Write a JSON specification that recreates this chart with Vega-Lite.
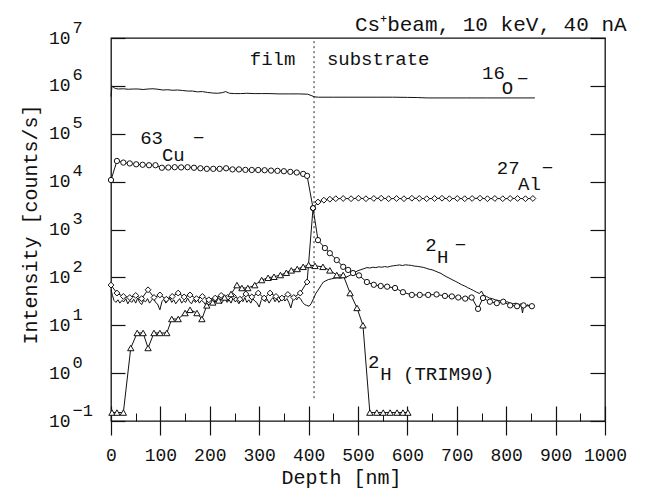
{
  "$schema": "https://vega.github.io/schema/vega-lite/v6.json",
  "width": 494,
  "height": 383,
  "autosize": {"type": "none"},
  "padding": {"left": 111, "top": 38, "right": 42, "bottom": 82},
  "background": "white",
  "config": {
    "font": "Liberation Mono",
    "view": {"stroke": "#111", "strokeWidth": 1.3},
    "axis": {"grid": false, "domain": false, "labelColor": "#111", "titleColor": "#111", "tickColor": "#111", "labelFont": "Liberation Mono", "titleFont": "Liberation Mono", "titleFontWeight": "normal"}
  },
  "title": {"text": "Cs⁺beam, 10 keV, 40 nA", "anchor": "end", "fontSize": 21, "fontWeight": "normal", "font": "Liberation Mono", "color": "#111", "offset": -17},
  "datasets": {
    "divider": [{"depth": 411, "intensity": 0.3, "top": 10000000}],
    "series": [
      {"species": "O", "depth": 0, "intensity": 600000}, {"species": "O", "depth": 2, "intensity": 1000000}, {"species": "O", "depth": 5, "intensity": 930000}, {"species": "O", "depth": 9, "intensity": 880000}, {"species": "O", "depth": 15, "intensity": 860000}, {"species": "O", "depth": 25, "intensity": 870000}, {"species": "O", "depth": 35, "intensity": 850000}, {"species": "O", "depth": 45, "intensity": 860000}, {"species": "O", "depth": 55, "intensity": 860000}, {"species": "O", "depth": 65, "intensity": 840000}, {"species": "O", "depth": 75, "intensity": 860000}, {"species": "O", "depth": 85, "intensity": 870000}, {"species": "O", "depth": 95, "intensity": 850000}, {"species": "O", "depth": 105, "intensity": 820000}, {"species": "O", "depth": 115, "intensity": 830000}, {"species": "O", "depth": 125, "intensity": 810000}, {"species": "O", "depth": 135, "intensity": 820000}, {"species": "O", "depth": 145, "intensity": 800000}, {"species": "O", "depth": 155, "intensity": 780000}, {"species": "O", "depth": 165, "intensity": 780000}, {"species": "O", "depth": 175, "intensity": 750000}, {"species": "O", "depth": 185, "intensity": 760000}, {"species": "O", "depth": 195, "intensity": 730000}, {"species": "O", "depth": 205, "intensity": 710000}, {"species": "O", "depth": 215, "intensity": 700000}, {"species": "O", "depth": 225, "intensity": 720000}, {"species": "O", "depth": 232, "intensity": 760000}, {"species": "O", "depth": 240, "intensity": 700000}, {"species": "O", "depth": 250, "intensity": 690000}, {"species": "O", "depth": 262, "intensity": 690000}, {"species": "O", "depth": 275, "intensity": 700000}, {"species": "O", "depth": 290, "intensity": 690000}, {"species": "O", "depth": 305, "intensity": 690000}, {"species": "O", "depth": 320, "intensity": 690000}, {"species": "O", "depth": 340, "intensity": 680000}, {"species": "O", "depth": 360, "intensity": 680000}, {"species": "O", "depth": 380, "intensity": 680000}, {"species": "O", "depth": 398, "intensity": 670000}, {"species": "O", "depth": 405, "intensity": 630000}, {"species": "O", "depth": 412, "intensity": 590000}, {"species": "O", "depth": 420, "intensity": 580000}, {"species": "O", "depth": 450, "intensity": 580000}, {"species": "O", "depth": 480, "intensity": 580000}, {"species": "O", "depth": 510, "intensity": 580000}, {"species": "O", "depth": 540, "intensity": 580000}, {"species": "O", "depth": 570, "intensity": 580000}, {"species": "O", "depth": 600, "intensity": 575000}, {"species": "O", "depth": 620, "intensity": 570000}, {"species": "O", "depth": 640, "intensity": 560000}, {"species": "O", "depth": 680, "intensity": 560000}, {"species": "O", "depth": 720, "intensity": 560000}, {"species": "O", "depth": 760, "intensity": 560000}, {"species": "O", "depth": 800, "intensity": 560000}, {"species": "O", "depth": 830, "intensity": 560000}, {"species": "O", "depth": 858, "intensity": 560000},

      {"species": "Cu", "depth": 0, "intensity": 10800}, {"species": "Cu", "depth": 12, "intensity": 27000}, {"species": "Cu", "depth": 25, "intensity": 25000}, {"species": "Cu", "depth": 38, "intensity": 24000}, {"species": "Cu", "depth": 51, "intensity": 23000}, {"species": "Cu", "depth": 64, "intensity": 22500}, {"species": "Cu", "depth": 77, "intensity": 22000}, {"species": "Cu", "depth": 90, "intensity": 22000}, {"species": "Cu", "depth": 103, "intensity": 19500}, {"species": "Cu", "depth": 116, "intensity": 19700}, {"species": "Cu", "depth": 129, "intensity": 20000}, {"species": "Cu", "depth": 142, "intensity": 19800}, {"species": "Cu", "depth": 155, "intensity": 20000}, {"species": "Cu", "depth": 168, "intensity": 19500}, {"species": "Cu", "depth": 181, "intensity": 19000}, {"species": "Cu", "depth": 194, "intensity": 18500}, {"species": "Cu", "depth": 207, "intensity": 18500}, {"species": "Cu", "depth": 220, "intensity": 18500}, {"species": "Cu", "depth": 233, "intensity": 19000}, {"species": "Cu", "depth": 246, "intensity": 18000}, {"species": "Cu", "depth": 259, "intensity": 18000}, {"species": "Cu", "depth": 272, "intensity": 17600}, {"species": "Cu", "depth": 285, "intensity": 17500}, {"species": "Cu", "depth": 298, "intensity": 17500}, {"species": "Cu", "depth": 311, "intensity": 17300}, {"species": "Cu", "depth": 324, "intensity": 17000}, {"species": "Cu", "depth": 337, "intensity": 16800}, {"species": "Cu", "depth": 350, "intensity": 16500}, {"species": "Cu", "depth": 363, "intensity": 16000}, {"species": "Cu", "depth": 376, "intensity": 15500}, {"species": "Cu", "depth": 389, "intensity": 14500}, {"species": "Cu", "depth": 397, "intensity": 13200}, {"species": "Cu", "depth": 409, "intensity": 2800}, {"species": "Cu", "depth": 419, "intensity": 600}, {"species": "Cu", "depth": 433, "intensity": 410}, {"species": "Cu", "depth": 443, "intensity": 320}, {"species": "Cu", "depth": 457, "intensity": 230}, {"species": "Cu", "depth": 470, "intensity": 166}, {"species": "Cu", "depth": 480, "intensity": 143}, {"species": "Cu", "depth": 490, "intensity": 123}, {"species": "Cu", "depth": 502, "intensity": 110}, {"species": "Cu", "depth": 518, "intensity": 80}, {"species": "Cu", "depth": 532, "intensity": 70}, {"species": "Cu", "depth": 546, "intensity": 66}, {"species": "Cu", "depth": 559, "intensity": 64}, {"species": "Cu", "depth": 575, "intensity": 60}, {"species": "Cu", "depth": 591, "intensity": 49}, {"species": "Cu", "depth": 609, "intensity": 43}, {"species": "Cu", "depth": 625, "intensity": 43}, {"species": "Cu", "depth": 642, "intensity": 43}, {"species": "Cu", "depth": 659, "intensity": 44}, {"species": "Cu", "depth": 676, "intensity": 41}, {"species": "Cu", "depth": 690, "intensity": 40}, {"species": "Cu", "depth": 703, "intensity": 38}, {"species": "Cu", "depth": 717, "intensity": 36}, {"species": "Cu", "depth": 730, "intensity": 38}, {"species": "Cu", "depth": 743, "intensity": 22}, {"species": "Cu", "depth": 753, "intensity": 37}, {"species": "Cu", "depth": 767, "intensity": 31}, {"species": "Cu", "depth": 781, "intensity": 29}, {"species": "Cu", "depth": 794, "intensity": 31}, {"species": "Cu", "depth": 808, "intensity": 26}, {"species": "Cu", "depth": 822, "intensity": 25}, {"species": "Cu", "depth": 835, "intensity": 26}, {"species": "Cu", "depth": 852, "intensity": 25},

      {"species": "Al", "depth": 0, "intensity": 69}, {"species": "Al", "depth": 12, "intensity": 47}, {"species": "Al", "depth": 25, "intensity": 40}, {"species": "Al", "depth": 38, "intensity": 38}, {"species": "Al", "depth": 50, "intensity": 42}, {"species": "Al", "depth": 62, "intensity": 36}, {"species": "Al", "depth": 75, "intensity": 55}, {"species": "Al", "depth": 87, "intensity": 38}, {"species": "Al", "depth": 99, "intensity": 43}, {"species": "Al", "depth": 112, "intensity": 35}, {"species": "Al", "depth": 124, "intensity": 40}, {"species": "Al", "depth": 136, "intensity": 47}, {"species": "Al", "depth": 148, "intensity": 39}, {"species": "Al", "depth": 160, "intensity": 43}, {"species": "Al", "depth": 173, "intensity": 36}, {"species": "Al", "depth": 185, "intensity": 40}, {"species": "Al", "depth": 198, "intensity": 34}, {"species": "Al", "depth": 211, "intensity": 37}, {"species": "Al", "depth": 223, "intensity": 42}, {"species": "Al", "depth": 236, "intensity": 38}, {"species": "Al", "depth": 248, "intensity": 40}, {"species": "Al", "depth": 261, "intensity": 35}, {"species": "Al", "depth": 273, "intensity": 45}, {"species": "Al", "depth": 285, "intensity": 39}, {"species": "Al", "depth": 298, "intensity": 47}, {"species": "Al", "depth": 310, "intensity": 37}, {"species": "Al", "depth": 322, "intensity": 47}, {"species": "Al", "depth": 334, "intensity": 40}, {"species": "Al", "depth": 346, "intensity": 37}, {"species": "Al", "depth": 358, "intensity": 44}, {"species": "Al", "depth": 370, "intensity": 38}, {"species": "Al", "depth": 383, "intensity": 47}, {"species": "Al", "depth": 397, "intensity": 80}, {"species": "Al", "depth": 409, "intensity": 2800}, {"species": "Al", "depth": 419, "intensity": 3750}, {"species": "Al", "depth": 431, "intensity": 4100}, {"species": "Al", "depth": 443, "intensity": 4300}, {"species": "Al", "depth": 455, "intensity": 4400}, {"species": "Al", "depth": 470, "intensity": 4450}, {"species": "Al", "depth": 486, "intensity": 4400}, {"species": "Al", "depth": 501, "intensity": 4500}, {"species": "Al", "depth": 516, "intensity": 4400}, {"species": "Al", "depth": 532, "intensity": 4450}, {"species": "Al", "depth": 547, "intensity": 4500}, {"species": "Al", "depth": 562, "intensity": 4400}, {"species": "Al", "depth": 578, "intensity": 4450}, {"species": "Al", "depth": 593, "intensity": 4400}, {"species": "Al", "depth": 609, "intensity": 4500}, {"species": "Al", "depth": 624, "intensity": 4450}, {"species": "Al", "depth": 639, "intensity": 4400}, {"species": "Al", "depth": 655, "intensity": 4450}, {"species": "Al", "depth": 670, "intensity": 4500}, {"species": "Al", "depth": 685, "intensity": 4400}, {"species": "Al", "depth": 701, "intensity": 4450}, {"species": "Al", "depth": 716, "intensity": 4400}, {"species": "Al", "depth": 731, "intensity": 4450}, {"species": "Al", "depth": 747, "intensity": 4500}, {"species": "Al", "depth": 762, "intensity": 4400}, {"species": "Al", "depth": 777, "intensity": 4450}, {"species": "Al", "depth": 793, "intensity": 4400}, {"species": "Al", "depth": 808, "intensity": 4450}, {"species": "Al", "depth": 823, "intensity": 4450}, {"species": "Al", "depth": 839, "intensity": 4400}, {"species": "Al", "depth": 854, "intensity": 4450},

      {"species": "H", "depth": 0, "intensity": 55}, {"species": "H", "depth": 3, "intensity": 42}, {"species": "H", "depth": 6, "intensity": 33}, {"species": "H", "depth": 10, "intensity": 30}, {"species": "H", "depth": 14, "intensity": 34}, {"species": "H", "depth": 18, "intensity": 29}, {"species": "H", "depth": 22, "intensity": 33}, {"species": "H", "depth": 26, "intensity": 31}, {"species": "H", "depth": 30, "intensity": 36}, {"species": "H", "depth": 34, "intensity": 28}, {"species": "H", "depth": 38, "intensity": 33}, {"species": "H", "depth": 42, "intensity": 30}, {"species": "H", "depth": 46, "intensity": 35}, {"species": "H", "depth": 50, "intensity": 29}, {"species": "H", "depth": 54, "intensity": 37}, {"species": "H", "depth": 58, "intensity": 30}, {"species": "H", "depth": 62, "intensity": 27}, {"species": "H", "depth": 66, "intensity": 33}, {"species": "H", "depth": 70, "intensity": 31}, {"species": "H", "depth": 74, "intensity": 36}, {"species": "H", "depth": 78, "intensity": 29}, {"species": "H", "depth": 82, "intensity": 33}, {"species": "H", "depth": 86, "intensity": 38}, {"species": "H", "depth": 90, "intensity": 30}, {"species": "H", "depth": 94, "intensity": 28}, {"species": "H", "depth": 99, "intensity": 21}, {"species": "H", "depth": 103, "intensity": 31}, {"species": "H", "depth": 107, "intensity": 35}, {"species": "H", "depth": 111, "intensity": 29}, {"species": "H", "depth": 115, "intensity": 33}, {"species": "H", "depth": 119, "intensity": 37}, {"species": "H", "depth": 123, "intensity": 30}, {"species": "H", "depth": 127, "intensity": 34}, {"species": "H", "depth": 131, "intensity": 28}, {"species": "H", "depth": 135, "intensity": 32}, {"species": "H", "depth": 139, "intensity": 36}, {"species": "H", "depth": 143, "intensity": 29}, {"species": "H", "depth": 147, "intensity": 33}, {"species": "H", "depth": 151, "intensity": 30}, {"species": "H", "depth": 155, "intensity": 37}, {"species": "H", "depth": 159, "intensity": 31}, {"species": "H", "depth": 163, "intensity": 28}, {"species": "H", "depth": 167, "intensity": 34}, {"species": "H", "depth": 171, "intensity": 30}, {"species": "H", "depth": 175, "intensity": 35}, {"species": "H", "depth": 179, "intensity": 29}, {"species": "H", "depth": 183, "intensity": 33}, {"species": "H", "depth": 187, "intensity": 31}, {"species": "H", "depth": 191, "intensity": 27}, {"species": "H", "depth": 195, "intensity": 34}, {"species": "H", "depth": 199, "intensity": 31}, {"species": "H", "depth": 203, "intensity": 36}, {"species": "H", "depth": 207, "intensity": 29}, {"species": "H", "depth": 211, "intensity": 33}, {"species": "H", "depth": 215, "intensity": 30}, {"species": "H", "depth": 219, "intensity": 35}, {"species": "H", "depth": 223, "intensity": 28}, {"species": "H", "depth": 227, "intensity": 32}, {"species": "H", "depth": 231, "intensity": 36}, {"species": "H", "depth": 235, "intensity": 30}, {"species": "H", "depth": 239, "intensity": 34}, {"species": "H", "depth": 243, "intensity": 29}, {"species": "H", "depth": 247, "intensity": 37}, {"species": "H", "depth": 251, "intensity": 31}, {"species": "H", "depth": 255, "intensity": 33}, {"species": "H", "depth": 259, "intensity": 28}, {"species": "H", "depth": 263, "intensity": 35}, {"species": "H", "depth": 267, "intensity": 31}, {"species": "H", "depth": 271, "intensity": 38}, {"species": "H", "depth": 275, "intensity": 30}, {"species": "H", "depth": 279, "intensity": 34}, {"species": "H", "depth": 283, "intensity": 29}, {"species": "H", "depth": 287, "intensity": 36}, {"species": "H", "depth": 291, "intensity": 32}, {"species": "H", "depth": 295, "intensity": 30}, {"species": "H", "depth": 300, "intensity": 24}, {"species": "H", "depth": 304, "intensity": 33}, {"species": "H", "depth": 308, "intensity": 37}, {"species": "H", "depth": 312, "intensity": 31}, {"species": "H", "depth": 316, "intensity": 35}, {"species": "H", "depth": 320, "intensity": 29}, {"species": "H", "depth": 324, "intensity": 34}, {"species": "H", "depth": 328, "intensity": 38}, {"species": "H", "depth": 332, "intensity": 31}, {"species": "H", "depth": 336, "intensity": 36}, {"species": "H", "depth": 340, "intensity": 30}, {"species": "H", "depth": 344, "intensity": 34}, {"species": "H", "depth": 348, "intensity": 38}, {"species": "H", "depth": 352, "intensity": 32}, {"species": "H", "depth": 356, "intensity": 36}, {"species": "H", "depth": 360, "intensity": 30}, {"species": "H", "depth": 364, "intensity": 23}, {"species": "H", "depth": 368, "intensity": 33}, {"species": "H", "depth": 372, "intensity": 38}, {"species": "H", "depth": 376, "intensity": 34}, {"species": "H", "depth": 380, "intensity": 39}, {"species": "H", "depth": 384, "intensity": 35}, {"species": "H", "depth": 388, "intensity": 30}, {"species": "H", "depth": 392, "intensity": 27}, {"species": "H", "depth": 396, "intensity": 26}, {"species": "H", "depth": 401, "intensity": 25}, {"species": "H", "depth": 405, "intensity": 28}, {"species": "H", "depth": 410, "intensity": 36}, {"species": "H", "depth": 414, "intensity": 45}, {"species": "H", "depth": 418, "intensity": 52}, {"species": "H", "depth": 422, "intensity": 60}, {"species": "H", "depth": 426, "intensity": 70}, {"species": "H", "depth": 430, "intensity": 80}, {"species": "H", "depth": 435, "intensity": 85}, {"species": "H", "depth": 440, "intensity": 90}, {"species": "H", "depth": 446, "intensity": 93}, {"species": "H", "depth": 452, "intensity": 96}, {"species": "H", "depth": 458, "intensity": 98}, {"species": "H", "depth": 464, "intensity": 96}, {"species": "H", "depth": 470, "intensity": 99}, {"species": "H", "depth": 476, "intensity": 101}, {"species": "H", "depth": 482, "intensity": 108}, {"species": "H", "depth": 488, "intensity": 118}, {"species": "H", "depth": 494, "intensity": 128}, {"species": "H", "depth": 500, "intensity": 138}, {"species": "H", "depth": 506, "intensity": 145}, {"species": "H", "depth": 512, "intensity": 152}, {"species": "H", "depth": 518, "intensity": 160}, {"species": "H", "depth": 524, "intensity": 157}, {"species": "H", "depth": 530, "intensity": 163}, {"species": "H", "depth": 536, "intensity": 160}, {"species": "H", "depth": 542, "intensity": 166}, {"species": "H", "depth": 548, "intensity": 163}, {"species": "H", "depth": 554, "intensity": 168}, {"species": "H", "depth": 560, "intensity": 164}, {"species": "H", "depth": 566, "intensity": 171}, {"species": "H", "depth": 572, "intensity": 175}, {"species": "H", "depth": 578, "intensity": 178}, {"species": "H", "depth": 584, "intensity": 182}, {"species": "H", "depth": 590, "intensity": 177}, {"species": "H", "depth": 596, "intensity": 183}, {"species": "H", "depth": 602, "intensity": 180}, {"species": "H", "depth": 608, "intensity": 178}, {"species": "H", "depth": 614, "intensity": 172}, {"species": "H", "depth": 620, "intensity": 170}, {"species": "H", "depth": 626, "intensity": 166}, {"species": "H", "depth": 632, "intensity": 162}, {"species": "H", "depth": 638, "intensity": 155}, {"species": "H", "depth": 644, "intensity": 148}, {"species": "H", "depth": 650, "intensity": 144}, {"species": "H", "depth": 656, "intensity": 136}, {"species": "H", "depth": 662, "intensity": 128}, {"species": "H", "depth": 668, "intensity": 121}, {"species": "H", "depth": 674, "intensity": 110}, {"species": "H", "depth": 680, "intensity": 102}, {"species": "H", "depth": 686, "intensity": 95}, {"species": "H", "depth": 692, "intensity": 88}, {"species": "H", "depth": 698, "intensity": 82}, {"species": "H", "depth": 704, "intensity": 76}, {"species": "H", "depth": 710, "intensity": 70}, {"species": "H", "depth": 716, "intensity": 66}, {"species": "H", "depth": 722, "intensity": 61}, {"species": "H", "depth": 728, "intensity": 57}, {"species": "H", "depth": 734, "intensity": 53}, {"species": "H", "depth": 740, "intensity": 49}, {"species": "H", "depth": 746, "intensity": 46}, {"species": "H", "depth": 750, "intensity": 52}, {"species": "H", "depth": 754, "intensity": 43}, {"species": "H", "depth": 760, "intensity": 40}, {"species": "H", "depth": 766, "intensity": 37}, {"species": "H", "depth": 772, "intensity": 36}, {"species": "H", "depth": 778, "intensity": 34}, {"species": "H", "depth": 784, "intensity": 33}, {"species": "H", "depth": 790, "intensity": 32}, {"species": "H", "depth": 796, "intensity": 30}, {"species": "H", "depth": 802, "intensity": 31}, {"species": "H", "depth": 808, "intensity": 29}, {"species": "H", "depth": 814, "intensity": 28}, {"species": "H", "depth": 820, "intensity": 29}, {"species": "H", "depth": 826, "intensity": 27}, {"species": "H", "depth": 830, "intensity": 28}, {"species": "H", "depth": 833, "intensity": 18}, {"species": "H", "depth": 836, "intensity": 28}, {"species": "H", "depth": 840, "intensity": 25}, {"species": "H", "depth": 844, "intensity": 27}, {"species": "H", "depth": 848, "intensity": 24}, {"species": "H", "depth": 852, "intensity": 27}, {"species": "H", "depth": 855, "intensity": 25},

      {"species": "TRIM", "depth": 2, "intensity": 0.15}, {"species": "TRIM", "depth": 12, "intensity": 0.15}, {"species": "TRIM", "depth": 25, "intensity": 0.15}, {"species": "TRIM", "depth": 40, "intensity": 3.35}, {"species": "TRIM", "depth": 53, "intensity": 6.9}, {"species": "TRIM", "depth": 65, "intensity": 6.9}, {"species": "TRIM", "depth": 75, "intensity": 3.35}, {"species": "TRIM", "depth": 87, "intensity": 6.9}, {"species": "TRIM", "depth": 99, "intensity": 6.9}, {"species": "TRIM", "depth": 113, "intensity": 6.9}, {"species": "TRIM", "depth": 123, "intensity": 13.5}, {"species": "TRIM", "depth": 136, "intensity": 13.5}, {"species": "TRIM", "depth": 150, "intensity": 18}, {"species": "TRIM", "depth": 160, "intensity": 21}, {"species": "TRIM", "depth": 174, "intensity": 18}, {"species": "TRIM", "depth": 184, "intensity": 13.5}, {"species": "TRIM", "depth": 194, "intensity": 26}, {"species": "TRIM", "depth": 206, "intensity": 30}, {"species": "TRIM", "depth": 218, "intensity": 33}, {"species": "TRIM", "depth": 230, "intensity": 38}, {"species": "TRIM", "depth": 243, "intensity": 45}, {"species": "TRIM", "depth": 255, "intensity": 69}, {"species": "TRIM", "depth": 265, "intensity": 60}, {"species": "TRIM", "depth": 277, "intensity": 60}, {"species": "TRIM", "depth": 291, "intensity": 69}, {"species": "TRIM", "depth": 305, "intensity": 88}, {"species": "TRIM", "depth": 318, "intensity": 98}, {"species": "TRIM", "depth": 330, "intensity": 103}, {"species": "TRIM", "depth": 343, "intensity": 112}, {"species": "TRIM", "depth": 355, "intensity": 125}, {"species": "TRIM", "depth": 365, "intensity": 140}, {"species": "TRIM", "depth": 377, "intensity": 150}, {"species": "TRIM", "depth": 389, "intensity": 166}, {"species": "TRIM", "depth": 400, "intensity": 182}, {"species": "TRIM", "depth": 413, "intensity": 174}, {"species": "TRIM", "depth": 429, "intensity": 166}, {"species": "TRIM", "depth": 443, "intensity": 140}, {"species": "TRIM", "depth": 457, "intensity": 112}, {"species": "TRIM", "depth": 470, "intensity": 112}, {"species": "TRIM", "depth": 484, "intensity": 47}, {"species": "TRIM", "depth": 498, "intensity": 23}, {"species": "TRIM", "depth": 510, "intensity": 10}, {"species": "TRIM", "depth": 524, "intensity": 0.15}, {"species": "TRIM", "depth": 538, "intensity": 0.15}, {"species": "TRIM", "depth": 551, "intensity": 0.15}, {"species": "TRIM", "depth": 565, "intensity": 0.15}, {"species": "TRIM", "depth": 579, "intensity": 0.15}, {"species": "TRIM", "depth": 591, "intensity": 0.15}, {"species": "TRIM", "depth": 601, "intensity": 0.15}
    ],
    "labels": [
      {"text": "63", "depth": 59, "intensity": 81500},
      {"text": "Cu", "depth": 103, "intensity": 36000},
      {"text": "−", "depth": 166, "intensity": 81500},
      {"text": "27", "depth": 781, "intensity": 19300},
      {"text": "Al", "depth": 824, "intensity": 8900},
      {"text": "−", "depth": 872, "intensity": 19300},
      {"text": "2", "depth": 636, "intensity": 474},
      {"text": "H", "depth": 660, "intensity": 267},
      {"text": "−", "depth": 696, "intensity": 474},
      {"text": "2", "depth": 520, "intensity": 1.71},
      {"text": "H (TRIM90)", "depth": 545, "intensity": 0.96},
      {"text": "16", "depth": 751, "intensity": 1860000},
      {"text": "O", "depth": 791, "intensity": 900000},
      {"text": "−", "depth": 822, "intensity": 1390000},
      {"text": "film", "depth": 281, "intensity": 3630000},
      {"text": "substrate", "depth": 437, "intensity": 3630000}
    ]
  },
  "resolve": {"axis": {"x": "independent", "y": "independent"}},
  "layer": [
    {
      "data": {"name": "divider"},
      "mark": {"type": "rule", "color": "#222", "strokeWidth": 1, "strokeDash": [2, 3]},
      "encoding": {
        "x": {"field": "depth", "type": "quantitative", "scale": {"domain": [0, 1000], "nice": false, "zero": false},
              "axis": {"orient": "bottom", "values": [0, 100, 200, 300, 400, 500, 600, 700, 800, 900, 1000], "format": "d", "tickSize": 14, "tickWidth": 1.2, "labelFontSize": 18, "labelPadding": 11, "labelFlush": false, "title": "Depth [nm]", "titleFontSize": 20, "titleX": 230, "titleY": 56, "titleBaseline": "middle"}},
        "y": {"field": "intensity", "type": "quantitative", "scale": {"type": "log", "domain": [0.1, 10000000], "nice": false},
              "axis": {"orient": "left", "values": [0.1, 1, 10, 100, 1000, 10000, 100000, 1000000, 10000000], "ticks": false, "labelExpr": "'10'", "labelFontSize": 18, "labelPadding": 41, "labelAlign": "right", "labelBaseline": "middle", "labelFlush": false, "labelOverlap": false, "title": "Intensity [counts/s]", "titleFontSize": 20, "titleX": -81, "titleY": 186, "titleBaseline": "middle", "titleAngle": 270}},
        "y2": {"field": "top"}
      }
    },
    {
      "data": {"name": "series"},
      "mark": {"type": "line", "color": "#111", "strokeWidth": 1},
      "encoding": {
        "x": {"field": "depth", "type": "quantitative", "scale": {"domain": [0, 1000], "nice": false, "zero": false},
              "axis": {"orient": "bottom", "values": [0, 100, 200, 300, 400, 500, 600, 700, 800, 900, 1000], "tickSize": -15, "tickWidth": 1.2, "labels": false, "title": null}},
        "y": {"field": "intensity", "type": "quantitative", "scale": {"type": "log", "domain": [0.1, 10000000], "nice": false},
              "axis": {"orient": "left", "values": [0.1, 1, 10, 100, 1000, 10000, 100000, 1000000, 10000000], "ticks": false, "labelExpr": "format(round(log(datum.value)/LN10), 'd')", "labelFontSize": 17, "labelPadding": 39, "labelAlign": "left", "labelBaseline": "middle", "labelOffset": -11, "labelFlush": false, "labelOverlap": false, "title": null}},
        "detail": {"field": "species"}
      }
    },
    {
      "data": {"name": "series"},
      "transform": [{"filter": "datum.species === 'Cu' || datum.species === 'Al' || datum.species === 'TRIM'"}],
      "mark": {"type": "point", "filled": true, "fill": "white", "stroke": "#111", "strokeWidth": 1, "opacity": 1},
      "encoding": {
        "x": {"field": "depth", "type": "quantitative", "scale": {"domain": [0, 1000], "nice": false, "zero": false},
              "axis": {"orient": "bottom", "values": [50, 150, 250, 350, 450, 550, 650, 750, 850, 950], "tickSize": -8, "tickWidth": 1, "labels": false, "title": null}},
        "y": {"field": "intensity", "type": "quantitative", "scale": {"type": "log", "domain": [0.1, 10000000], "nice": false},
              "axis": {"orient": "left", "values": [0.1, 1, 10, 100, 1000, 10000, 100000, 1000000, 10000000], "tickSize": -14, "tickWidth": 1.2, "labels": false, "title": null}},
        "shape": {"field": "species", "type": "nominal", "scale": {"domain": ["Cu", "Al", "TRIM"], "range": ["circle", "diamond", "triangle-up"]}, "legend": null},
        "size": {"field": "species", "type": "nominal", "scale": {"domain": ["Cu", "Al", "TRIM"], "range": [28, 40, 34]}, "legend": null}
      }
    },
    {
      "data": {"name": "labels"},
      "mark": {"type": "text", "align": "left", "baseline": "middle", "fontSize": 19, "font": "Liberation Mono", "color": "#111"},
      "encoding": {
        "x": {"field": "depth", "type": "quantitative", "scale": {"domain": [0, 1000], "nice": false, "zero": false}, "axis": null},
        "y": {"field": "intensity", "type": "quantitative", "scale": {"type": "log", "domain": [0.1, 10000000], "nice": false},
              "axis": {"orient": "right", "values": [0.1, 1, 10, 100, 1000, 10000, 100000, 1000000, 10000000], "tickSize": -15, "tickWidth": 1.2, "labels": false, "title": null}},
        "text": {"field": "text"}
      }
    }
  ]
}
